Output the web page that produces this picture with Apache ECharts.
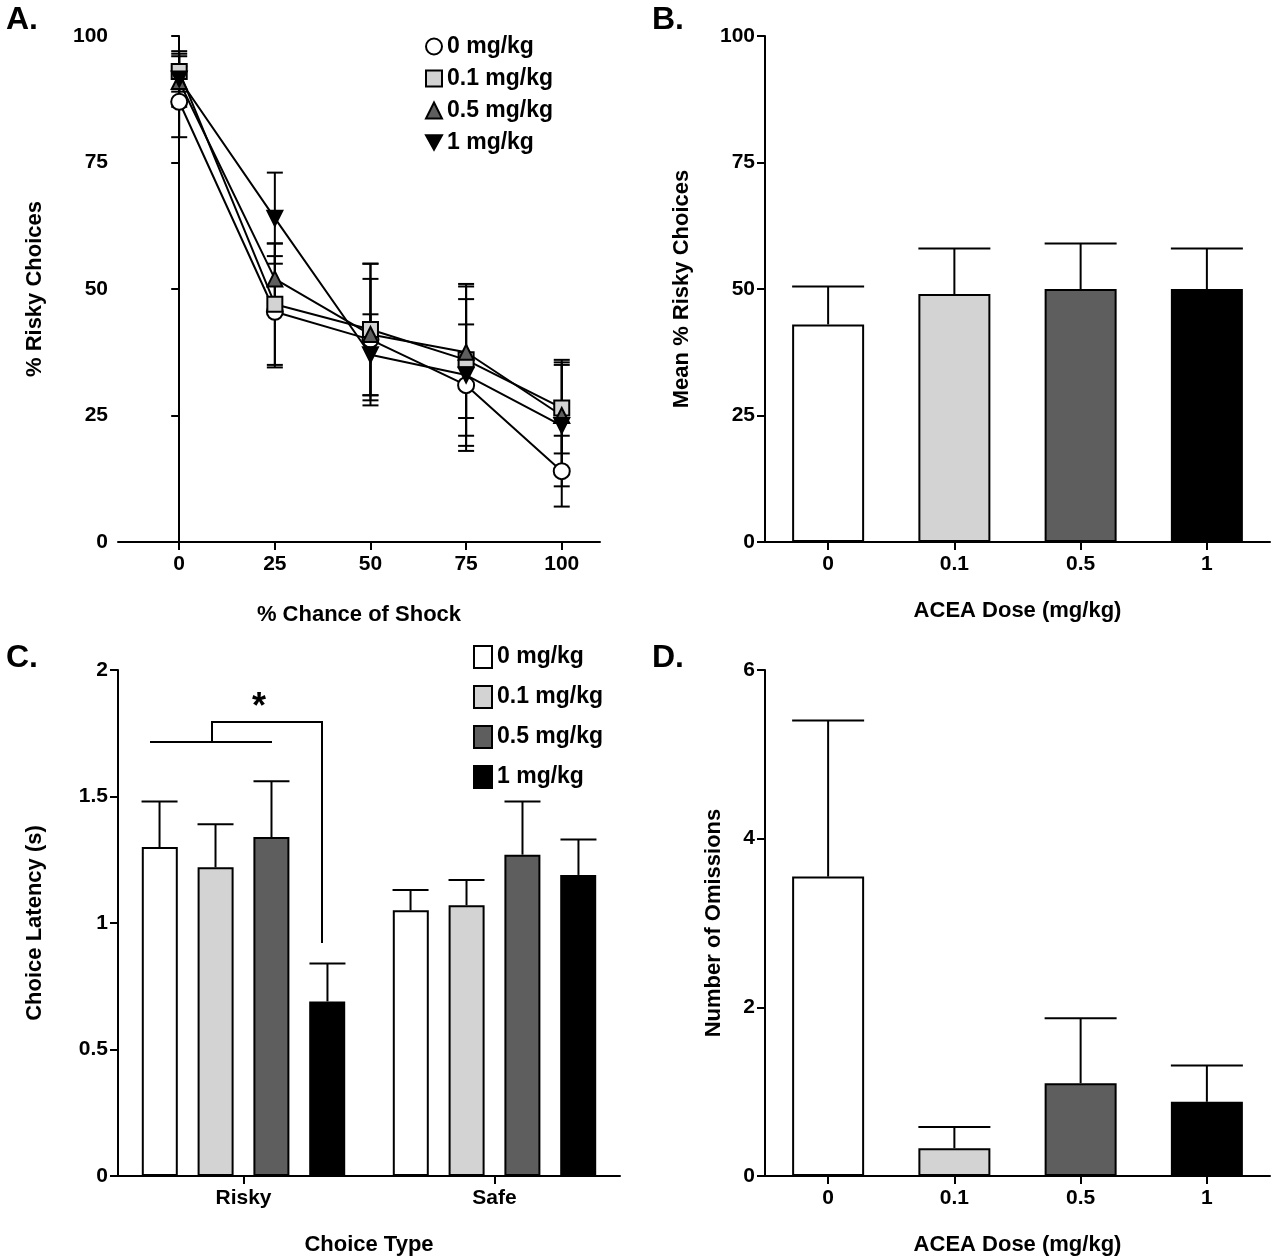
<!DOCTYPE html><html><head><meta charset="utf-8"><script src="https://cdn.jsdelivr.net/npm/echarts@6/dist/echarts.min.js"></script>
<style>html,body{margin:0;background:#fff}#c{width:1280px;height:1257px}</style></head><body><div id="c"></div><script>
const shock=[0,25,50,75,100];
const doses=['0 mg/kg','0.1 mg/kg','0.5 mg/kg','1 mg/kg'];
const riskA=[[87,45.5,40,31,14],[93,47,42,36,26.5],[91,52,41,37.5,25],[91.5,64,37,33,23]];
const riskAErr=[[7,11,12,12,7],[4,12,13,15,9],[5,7,14,13,11],[5,9,8,15,12]];
const doseCats=['0','0.1','0.5','1'];
const meanRisk=[43,49,50,50];
const meanRiskErr=[7.5,9,9,8];
const choiceTypes=['Risky','Safe'];
const latency=[[1.30,1.05],[1.22,1.07],[1.34,1.27],[0.69,1.19]];
const latencyErr=[[0.18,0.08],[0.17,0.10],[0.22,0.21],[0.15,0.14]];
const omissions=[3.55,0.33,1.1,0.88];
const omissionsErr=[1.85,0.25,0.77,0.43];
const fills=['#ffffff','#d3d3d3','#5e5e5e','#000000'];
const syms=['circle','rect','triangle','path://M0,0 L10,0 L5,9 Z'];
const F='Liberation Sans, Arial, sans-serif';
const ch=echarts.init(document.getElementById('c'));
const tl={color:'#000',fontSize:21,fontWeight:'bold',fontFamily:F};
const ax={lineStyle:{color:'#000',width:2}};
const tk={show:true,inside:false,length:8,lineStyle:{color:'#000',width:2}};
const nm={color:'#000',fontSize:22,fontWeight:'bold',fontFamily:F};
function yAx(gi,max,interval,name,gap){return {gridIndex:gi,type:'value',min:0,max:max,interval:interval,name:name,nameLocation:'middle',nameGap:gap,nameTextStyle:nm,axisLine:Object.assign({show:true},ax),axisTick:tk,axisLabel:Object.assign({margin:10},tl),splitLine:{show:false}};}
function catX(gi,data,name){return {gridIndex:gi,type:'category',data:data,name:name,nameLocation:'middle',nameGap:58,nameTextStyle:nm,axisLine:ax,axisTick:Object.assign({},tk,{alignWithLabel:true}),axisLabel:Object.assign({margin:12},tl)};}
const series=[];
// Panel A
riskA.forEach((v,i)=>{
 series.push({type:'line',name:doses[i],xAxisIndex:0,yAxisIndex:0,data:shock.map((x,j)=>[x,v[j]]),symbol:syms[i],symbolSize:i==0?16:15,lineStyle:{color:'#000',width:2},itemStyle:{color:fills[i],borderColor:'#000',borderWidth:2},z:5});
 series.push({type:'custom',xAxisIndex:0,yAxisIndex:0,data:shock.map((x,j)=>[x,v[j]-riskAErr[i][j],v[j]+riskAErr[i][j]]),z:3,
  renderItem:(p,api)=>{const a=api.coord([api.value(0),api.value(1)]),b=api.coord([api.value(0),api.value(2)]);const s={stroke:'#000',lineWidth:2};
   return {type:'group',children:[{type:'line',shape:{x1:a[0],y1:a[1],x2:b[0],y2:b[1]},style:s},{type:'line',shape:{x1:a[0]-8,y1:a[1],x2:a[0]+8,y2:a[1]},style:s},{type:'line',shape:{x1:b[0]-8,y1:b[1],x2:b[0]+8,y2:b[1]},style:s}]};}});
});
function errBar(xi,yi,vals,errs,bw,offFrac){
 return {type:'custom',xAxisIndex:xi,yAxisIndex:yi,z:1,data:vals.map((v,j)=>[j,v,v+errs[j]]),
  renderItem:(p,api)=>{const band=api.size([1,0])[0];const a=api.coord([api.value(0),api.value(1)]),b=api.coord([api.value(0),api.value(2)]);const x=a[0]+band*offFrac;const s={stroke:'#000',lineWidth:2};
   return {type:'group',children:[{type:'line',shape:{x1:x,y1:a[1],x2:x,y2:b[1]},style:s},{type:'line',shape:{x1:x-bw/2,y1:b[1],x2:x+bw/2,y2:b[1]},style:s}]};}};
}
// Panel B
series.push({type:'bar',xAxisIndex:1,yAxisIndex:1,barWidth:72,data:meanRisk.map((v,j)=>({value:v,itemStyle:{color:fills[j]}})),itemStyle:{borderColor:'#000',borderWidth:2},z:2});
series.push(errBar(1,1,meanRisk,meanRiskErr,72,0));
// Panel C
latency.forEach((v,i)=>{
 series.push({type:'bar',name:doses[i]+' ',xAxisIndex:2,yAxisIndex:2,barWidth:36,barGap:'55%',data:v,itemStyle:{color:fills[i],borderColor:'#000',borderWidth:2},z:2});
 series.push(errBar(2,2,v,latencyErr[i],36,(i-1.5)*0.223));
});
// Panel D
series.push({type:'bar',xAxisIndex:3,yAxisIndex:3,barWidth:72,data:omissions.map((v,j)=>({value:v,itemStyle:{color:fills[j]}})),itemStyle:{borderColor:'#000',borderWidth:2},z:2});
series.push(errBar(3,3,omissions,omissionsErr,72,0));
const lt={color:'#000',fontSize:23,fontWeight:'bold',fontFamily:F};
ch.setOption({animation:false,
 grid:[{left:118,top:36,width:482,height:506},{left:765,top:36,width:505,height:506},{left:118,top:670,width:502,height:507},{left:765,top:670,width:505,height:507}],
 xAxis:[{gridIndex:0,type:'value',min:-16,max:110,name:'% Chance of Shock',nameLocation:'middle',nameGap:62,nameTextStyle:nm,axisLine:Object.assign({onZero:false},ax),axisTick:Object.assign({},tk,{customValues:shock}),axisLabel:Object.assign({margin:12,customValues:shock},tl),splitLine:{show:false}},
  catX(1,doseCats,'ACEA Dose (mg/kg)'),catX(2,choiceTypes,'Choice Type'),catX(3,doseCats,'ACEA Dose (mg/kg)')],
 yAxis:[yAx(0,100,25,'% Risky Choices',72),yAx(1,100,25,'Mean % Risky Choices',72),yAx(2,2,0.5,'Choice Latency (s)',72),yAx(3,6,2,'Number of Omissions',40)],
 yAxisFix:null,
 legend:[{left:420,top:30,orient:'vertical',itemGap:9,itemWidth:16,itemHeight:16,textStyle:lt,data:doses.map((d,i)=>({name:d,icon:syms[i],itemStyle:{color:fills[i],borderColor:'#000',borderWidth:2}})),selectedMode:false},
  {left:468,top:640,orient:'vertical',itemGap:16,itemWidth:18,itemHeight:22,textStyle:lt,data:doses.map((d,i)=>({name:d+' ',icon:'rect',itemStyle:{color:fills[i],borderColor:'#000',borderWidth:2}})),selectedMode:false}],
 graphic:[
  {type:'text',left:6,top:4,style:{text:'A.',font:'bold 32px '+F,fill:'#000'}},
  {type:'text',left:652,top:4,style:{text:'B.',font:'bold 32px '+F,fill:'#000'}},
  {type:'text',left:6,top:642,style:{text:'C.',font:'bold 32px '+F,fill:'#000'}},
  {type:'text',left:652,top:642,style:{text:'D.',font:'bold 32px '+F,fill:'#000'}},
  {type:'polyline',shape:{points:[[150,742],[272,742]]},style:{stroke:'#000',lineWidth:2}},
  {type:'polyline',shape:{points:[[212,742],[212,722],[322,722],[322,943]]},style:{stroke:'#000',fill:null,lineWidth:2}},
  {type:'text',left:252,top:690,style:{text:'*',font:'bold 36px '+F,fill:'#000'}}
 ],
 series:series});
</script></body></html>
